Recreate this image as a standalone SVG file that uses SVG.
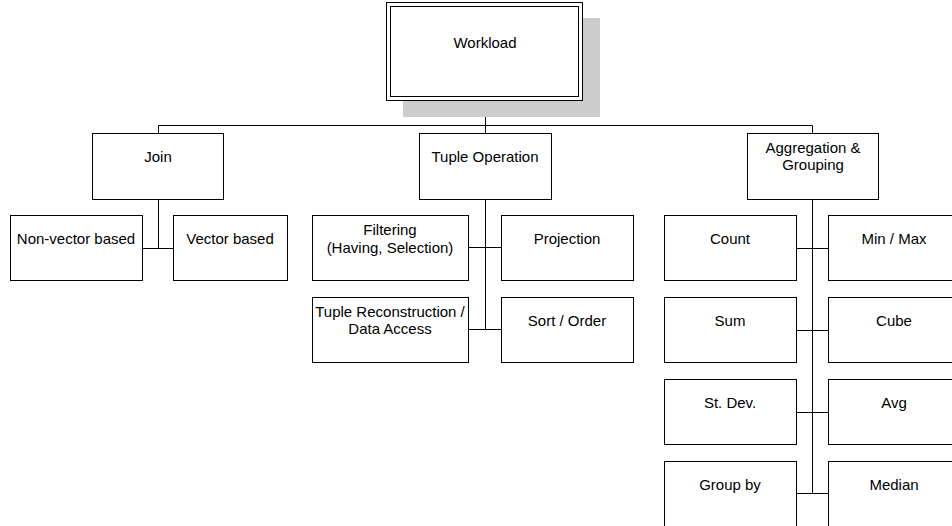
<svg xmlns="http://www.w3.org/2000/svg" width="952" height="526" viewBox="0 0 952 526">
<style>
.box{fill:#fff;stroke:#000;stroke-width:1}
.t{font-family:"Liberation Sans",Arial,sans-serif;font-size:15px;fill:#000;text-anchor:middle}
.c{fill:none;stroke:#000;stroke-width:1}
</style>
<rect width="952" height="526" fill="#fff"/>
<g id="connectors">
<path class="c" d="M485.5 100V125.5M158.5 125.5H812.5M158.5 125.5V133M485.5 125.5V133M812.5 125.5V133"/>
<path class="c" d="M158.5 199V248.5M142 248.5H173"/>
<path class="c" d="M485.5 199V329.5M468 247.5H501M468 329.5H501"/>
<path class="c" d="M812.5 199V493.5M796 248.5H828M796 330.5H828M796 412.5H828M796 493.5H828"/>
</g>
<g id="workload">
<rect x="403" y="18" width="197" height="99" fill="#cccccc"/>
<rect class="box" x="386.5" y="2.5" width="196" height="98"/>
<rect class="box" x="390.5" y="6.5" width="188" height="90"/>
<text class="t" x="485" y="48">Workload</text>
</g>
<g id="join">
<rect class="box" x="92.5" y="133.5" width="131" height="66"/>
<text class="t" x="158" y="162">Join</text>
</g>
<g id="tuple-operation">
<rect class="box" x="419.5" y="133.5" width="132" height="66"/>
<text class="t" x="485" y="162">Tuple Operation</text>
</g>
<g id="aggregation">
<rect class="box" x="747.5" y="133.5" width="131" height="66"/>
<text class="t" x="813" y="153">Aggregation &amp;</text>
<text class="t" x="813" y="170">Grouping</text>
</g>
<g id="non-vector">
<rect class="box" x="10.5" y="215.5" width="132" height="65"/>
<text class="t" x="76" y="244">Non-vector based</text>
</g>
<g id="vector">
<rect class="box" x="173.5" y="215.5" width="114" height="65"/>
<text class="t" x="230" y="244">Vector based</text>
</g>
<g id="filtering">
<rect class="box" x="312.5" y="215.5" width="156" height="65"/>
<text class="t" x="390" y="235">Filtering</text>
<text class="t" x="390" y="253">(Having, Selection)</text>
</g>
<g id="projection">
<rect class="box" x="501.5" y="215.5" width="132" height="65"/>
<text class="t" x="567" y="244">Projection</text>
</g>
<g id="tuple-reconstruction">
<rect class="box" x="312.5" y="297.5" width="156" height="65"/>
<text class="t" x="390" y="317">Tuple Reconstruction /</text>
<text class="t" x="390" y="334">Data Access</text>
</g>
<g id="sort-order">
<rect class="box" x="501.5" y="297.5" width="132" height="65"/>
<text class="t" x="567" y="326">Sort / Order</text>
</g>
<g id="count">
<rect class="box" x="664.5" y="215.5" width="132" height="65"/>
<text class="t" x="730" y="244">Count</text>
</g>
<g id="min-max">
<rect class="box" x="828.5" y="215.5" width="132" height="65"/>
<text class="t" x="894" y="244">Min / Max</text>
</g>
<g id="sum">
<rect class="box" x="664.5" y="297.5" width="132" height="65"/>
<text class="t" x="730" y="326">Sum</text>
</g>
<g id="cube">
<rect class="box" x="828.5" y="297.5" width="132" height="65"/>
<text class="t" x="894" y="326">Cube</text>
</g>
<g id="st-dev">
<rect class="box" x="664.5" y="379.5" width="132" height="65"/>
<text class="t" x="730" y="408">St. Dev.</text>
</g>
<g id="avg">
<rect class="box" x="828.5" y="379.5" width="132" height="65"/>
<text class="t" x="894" y="408">Avg</text>
</g>
<g id="group-by">
<rect class="box" x="664.5" y="461.5" width="132" height="65"/>
<text class="t" x="730" y="490">Group by</text>
</g>
<g id="median">
<rect class="box" x="828.5" y="461.5" width="132" height="65"/>
<text class="t" x="894" y="490">Median</text>
</g>
</svg>
